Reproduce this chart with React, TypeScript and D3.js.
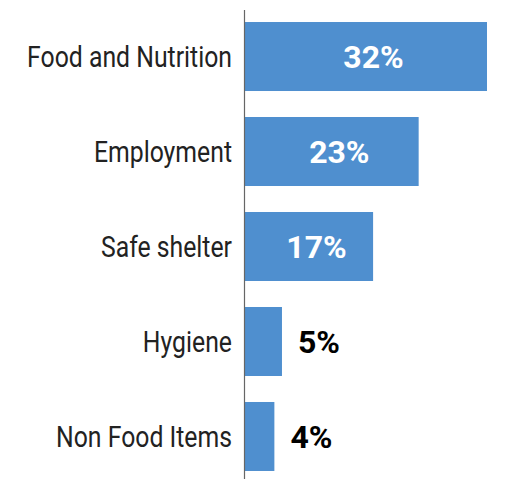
import React from "react";
import * as d3 from "d3";

const categories = ["Food and Nutrition", "Employment", "Safe shelter", "Hygiene", "Non Food Items"];
const values = [32, 23, 17, 5, 4];
const insideThreshold = 10;

const W = 529;
const H = 479;
const BAR = "#4f8fcf";

export default function App() {
  const x = d3.scaleLinear().domain([0, 32]).range([244, 487]);
  const y = d3
    .scaleBand<string>()
    .domain(categories)
    .range([9, 484])
    .paddingInner(0.2737)
    .paddingOuter(0.137);
  const bw = y.bandwidth();
  const labelSize = 29.5;
  const valueSize = 32;
  return (
    <svg
      width={W}
      height={H}
      style={{ position: "absolute", left: 0, top: 0, background: "#fff" }}
    >
      {categories.map((c, i) => {
        const v = values[i];
        const y0 = y(c)!;
        const cy = y0 + bw / 2;
        const x0 = x(0);
        const x1 = x(v);
        const inside = v >= insideThreshold;
        return (
          <g key={c}>
            <rect x={x0} y={y0} width={x1 - x0} height={bw} fill={BAR} />
            <text
              transform={`translate(${x0 - 12},${cy + (labelSize * 0.711) / 2}) scale(0.84,1)`}
              textAnchor="end"
              fontFamily="Roboto"
              fontSize={labelSize}
              fill="#222"
            >
              {c}
            </text>
            <text
              x={inside ? (x0 + x1) / 2 + 8 : x1 + 16}
              y={cy + (valueSize * 0.711) / 2}
              textAnchor={inside ? "middle" : "start"}
              fontFamily="Roboto"
              fontWeight={700}
              fontSize={valueSize}
              fill={inside ? "#fff" : "#000"}
            >
              {v}%
            </text>
          </g>
        );
      })}
      <line x1={244.5} x2={244.5} y1={10} y2={H} stroke="#666" strokeWidth={1.2} />
    </svg>
  );
}
